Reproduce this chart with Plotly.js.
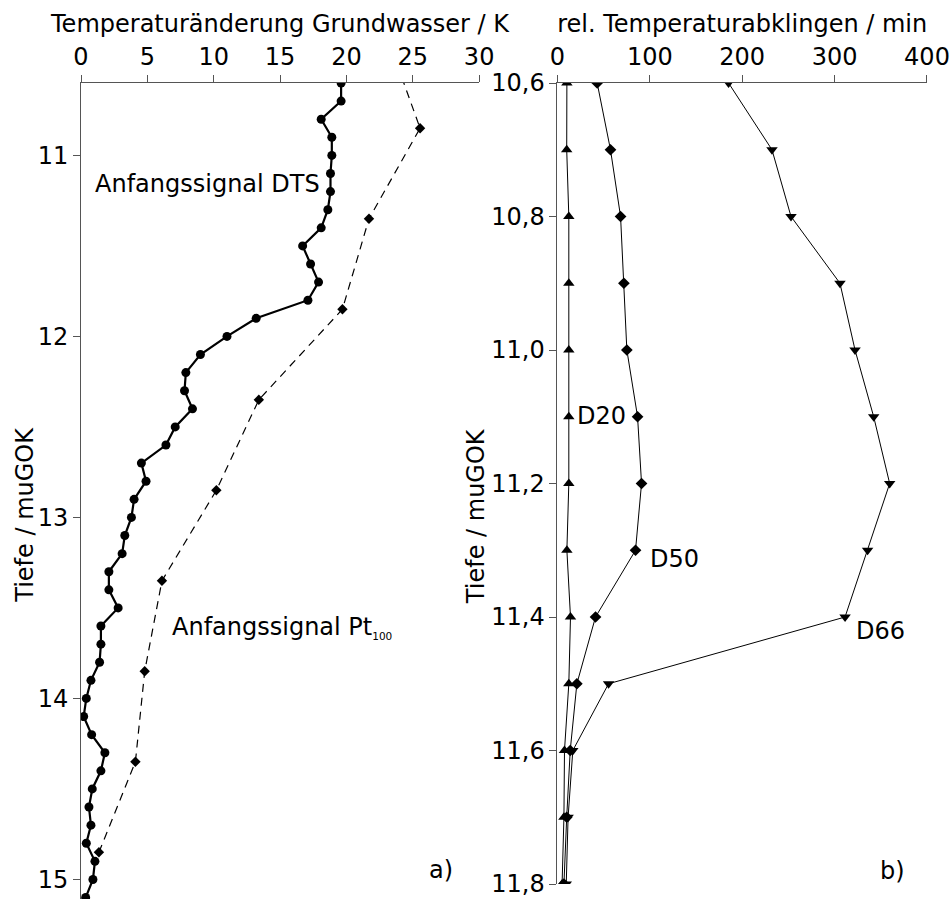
<!DOCTYPE html>
<html>
<head>
<meta charset="utf-8">
<script src="https://cdn.plot.ly/plotly-3.0.1.min.js"></script>
<style>html,body{margin:0;padding:0;background:#fff;}#chart{width:952px;height:899px;}</style>
</head>
<body>
<div id="chart"></div>
<script>
// ---- Panel a) : temperature change of groundwater vs depth ----
const depthDTS = [10.6,10.7,10.8,10.9,11.0,11.1,11.2,11.3,11.4,11.5,11.6,11.7,11.8,11.9,12.0,12.1,12.2,12.3,12.4,12.5,12.6,12.7,12.8,12.9,13.0,13.1,13.2,13.3,13.4,13.5,13.6,13.7,13.8,13.9,14.0,14.1,14.2,14.3,14.4,14.5,14.6,14.7,14.8,14.9,15.0,15.1];
const tempDTS  = [19.6,19.6,18.1,18.9,18.9,18.8,18.8,18.6,18.1,16.7,17.3,17.9,17.1,13.2,11.0,9.0,7.9,7.8,8.4,7.1,6.4,4.55,4.9,4.0,3.8,3.3,3.1,2.1,2.1,2.8,1.5,1.5,1.4,0.75,0.4,0.2,0.8,1.8,1.5,0.85,0.6,0.75,0.4,1.05,0.9,0.35];
const depthPt  = [10.35,10.85,11.35,11.85,12.35,12.85,13.35,13.85,14.35,14.85];
const tempPt   = [23.1,25.55,21.7,19.7,13.4,10.2,6.1,4.8,4.1,1.35];

// ---- Panel b) : relative temperature decay vs depth ----
const depthB = [10.6,10.7,10.8,10.9,11.0,11.1,11.2,11.3,11.4,11.5,11.6,11.7,11.8];
const d20 = [10.2,10.0,12.3,12.3,12.3,12.3,12.3,10.2,14.1,12.3,7.6,7.0,5.0];
const d50 = [43.0,57.4,68.3,71.9,75.1,86.7,91.0,84.5,41.2,21.0,13.8,10.0,7.0];
const d66 = [185.2,232.2,252.8,305.8,322.1,342.3,359.6,335.7,311.3,55.3,16.6,11.5,9.5];

const ticksA_x = [0,5,10,15,20,25,30];
const ticksA_y = [11,12,13,14,15];
const ticksB_x = [0,100,200,300,400];
const ticksB_y = [10.6,10.8,11.0,11.2,11.4,11.6,11.8];

const FONT = 'DejaVu Sans, Liberation Sans, sans-serif';
const FS = 24;
const AX = '#555';

const traces = [
  {x: tempDTS, y: depthDTS, xaxis:'x', yaxis:'y', type:'scatter', mode:'lines+markers',
   line:{color:'#000', width:2.2}, marker:{symbol:'circle', size:9, color:'#000'}, name:'DTS'},
  {x: tempPt, y: depthPt, xaxis:'x', yaxis:'y', type:'scatter', mode:'lines+markers',
   line:{color:'#000', width:1.2, dash:'8px,6px'}, marker:{symbol:'diamond', size:8, color:'#000'}, name:'Pt100'},
  {x: d20, y: depthB, xaxis:'x2', yaxis:'y2', type:'scatter', mode:'lines+markers',
   line:{color:'#000', width:1}, marker:{symbol:'triangle-up', size:10, color:'#000'}, name:'D20'},
  {x: d50, y: depthB, xaxis:'x2', yaxis:'y2', type:'scatter', mode:'lines+markers',
   line:{color:'#000', width:1}, marker:{symbol:'diamond', size:9, color:'#000'}, name:'D50'},
  {x: d66, y: depthB, xaxis:'x2', yaxis:'y2', type:'scatter', mode:'lines+markers',
   line:{color:'#000', width:1}, marker:{symbol:'triangle-down', size:10, color:'#000'}, name:'D66'}
];

const axCommon = {showline:true, linecolor:AX, linewidth:1, ticks:'outside', ticklen:7, tickcolor:AX,
  tickwidth:1, showgrid:false, zeroline:false, tickfont:{family:FONT, size:FS, color:'#000'}, automargin:false};

const layout = {
  width:952, height:899,
  margin:{l:81, r:25.3, t:83, b:0, autoexpand:false},
  paper_bgcolor:'#fff', plot_bgcolor:'rgba(0,0,0,0)',
  showlegend:false, separators:', ',
  font:{family:FONT, size:FS, color:'#000'},
  xaxis: Object.assign({}, axCommon, {domain:[0,0.4706], range:[0,30], side:'top', anchor:'y',
    tickvals:ticksA_x, title:{text:'Temperaturänderung Grundwasser / K', font:{family:FONT,size:FS,color:'#000'}, standoff:4}}),
  yaxis: Object.assign({}, axCommon, {domain:[0,1], range:[15.108,10.6], anchor:'x', tickvals:ticksA_y}),
  xaxis2: Object.assign({}, axCommon, {domain:[0.5632,1], range:[0,400], side:'top', anchor:'y2',
    tickvals:ticksB_x, title:{text:'rel. Temperaturabklingen / min', font:{family:FONT,size:FS,color:'#000'}, standoff:4}}),
  yaxis2: Object.assign({}, axCommon, {domain:[0.01838,1], range:[11.8,10.6], anchor:'x2',
    tickvals:ticksB_y, tickformat:'.1f'}),
  annotations:[
    {text:'Tiefe / muGOK', xref:'paper', yref:'paper', x:-0.0665, y:(899-515)/816, textangle:-90,
     showarrow:false, xanchor:'center', yanchor:'middle', font:{family:FONT,size:FS,color:'#000'}},
    {text:'Tiefe / muGOK', xref:'paper', yref:'paper', x:(476-81)/845.7, y:(899-516)/816, textangle:-90,
     showarrow:false, xanchor:'center', yanchor:'middle', font:{family:FONT,size:FS,color:'#000'}},
    {text:'Anfangssignal DTS', xref:'x', yref:'y', x:0.9, y:11.156, showarrow:false, xanchor:'left', yanchor:'middle',
     font:{family:FONT,size:FS,color:'#000'}},
    {text:'Anfangssignal Pt<sub><span style="font-size:10.5px">100</span></sub>', xref:'x', yref:'y', x:6.7, y:13.61, showarrow:false,
     xanchor:'left', yanchor:'middle', font:{family:FONT,size:FS,color:'#000'}},
    {text:'a)', xref:'x', yref:'y', x:26.1, y:14.946, showarrow:false, xanchor:'left', yanchor:'middle',
     font:{family:FONT,size:FS,color:'#000'}},
    {text:'D20', xref:'x2', yref:'y2', x:19.5, y:11.099, showarrow:false, xanchor:'left', yanchor:'middle',
     font:{family:FONT,size:FS,color:'#000'}},
    {text:'D50', xref:'x2', yref:'y2', x:97.8, y:11.313, showarrow:false, xanchor:'left', yanchor:'middle',
     font:{family:FONT,size:FS,color:'#000'}},
    {text:'D66', xref:'x2', yref:'y2', x:320.5, y:11.4215, showarrow:false, xanchor:'left', yanchor:'middle',
     font:{family:FONT,size:FS,color:'#000'}},
    {text:'b)', xref:'x2', yref:'y2', x:346.5, y:11.78, showarrow:false, xanchor:'left', yanchor:'middle',
     font:{family:FONT,size:FS,color:'#000'}}
  ]
};

Plotly.newPlot('chart', traces, layout, {displayModeBar:false, staticPlot:true});
</script>
</body>
</html>
